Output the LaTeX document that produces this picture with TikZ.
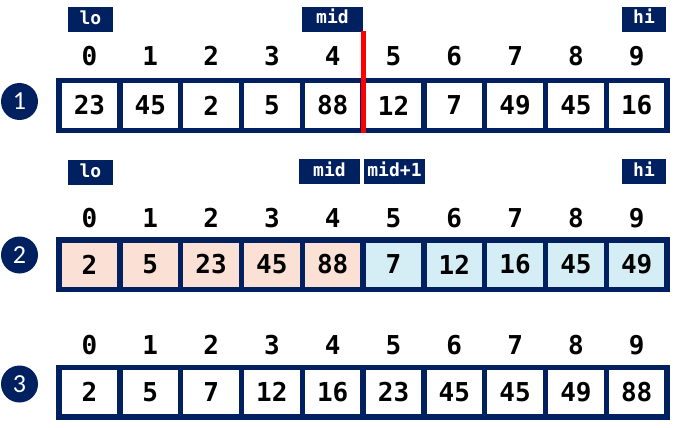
\documentclass[tikz,border=0pt]{standalone}
\usepackage{fontspec}
\setmonofont{DejaVu Sans Mono}
\newfontfamily\circfont{Carlito}
\definecolor{navy}{HTML}{002060}
\definecolor{peach}{HTML}{FBE1D5}
\definecolor{lblue}{HTML}{D5EDF5}
\tikzset{
  cell/.style={draw=navy, line width=5.5pt, minimum width=60.8pt, minimum height=49.5pt,
    inner sep=0pt, fill=white, font=\ttfamily\bfseries\fontsize{26}{26}\selectfont},
  idx/.style={inner sep=0pt, font=\ttfamily\bfseries\fontsize{26}{26}\selectfont},
  tag/.style={fill=navy, text=white, inner sep=0pt, minimum height=25pt,
    text height=12.5pt, text depth=3.5pt, font=\ttfamily\bfseries\fontsize{18}{18}\selectfont},
  num/.style={circle, fill=navy, text=white, inner sep=0pt, minimum size=37pt,
    font=\circfont\fontsize{26}{26}\selectfont},
  divider/.style={draw=red, line width=5pt}
}
\begin{document}
\begin{tikzpicture}[x=1pt,y=-1pt]
\useasboundingbox (0,0) rectangle (675,428);
% row labels
\node[num] (n1) at (19.5,101.5) {1};
\node[num] (n2) at (19.5,255) {2};
\node[num] (n3) at (19.5,384) {3};
% tags row 1
\node[tag, minimum width=45pt] (lo1) at (90.5,20) {lo};
\node[tag, minimum width=61pt] (mid1) at (332.5,19.5) {mid};
\node[tag, minimum width=44pt] (hi1) at (644,19.5) {hi};
% tags row 2
\node[tag, minimum width=45pt] (lo2) at (90.5,172.5) {lo};
\node[tag, minimum width=61pt] (mid2) at (329.5,171.5) {mid};
\node[tag, minimum width=61pt] (midp2) at (394.5,171.5) {mid+1};
\node[tag, minimum width=44pt] (hi2) at (644,171.5) {hi};
% indices
\foreach \i in {0,...,9} {
  \node[idx] (ia\i) at ({89.5+60.8*\i},56) {\i};
  \node[idx] (ib\i) at ({89.5+60.8*\i},218) {\i};
  \node[idx] (ic\i) at ({89.5+60.8*\i},345) {\i};
}
% row 1
\foreach \v [count=\i from 0] in {23,45,2,5,88,12,7,49,45,16}
  \node[cell] (a\i) at ({89.5+60.8*\i},105.5) {\v};
% row 2
\foreach \v/\c [count=\i from 0] in {2/peach,5/peach,23/peach,45/peach,88/peach,7/lblue,12/lblue,16/lblue,45/lblue,49/lblue}
  \node[cell, fill=\c] (b\i) at ({89.5+60.8*\i},264.5) {\v};
% row 3
\foreach \v [count=\i from 0] in {2,5,7,12,16,23,45,45,49,88}
  \node[cell] (c\i) at ({89.5+60.8*\i},392) {\v};
% divider
\coordinate (rtop) at (363.5,31);
\draw[divider] (rtop) -- (rtop |- a4.south);
\end{tikzpicture}
\end{document}
